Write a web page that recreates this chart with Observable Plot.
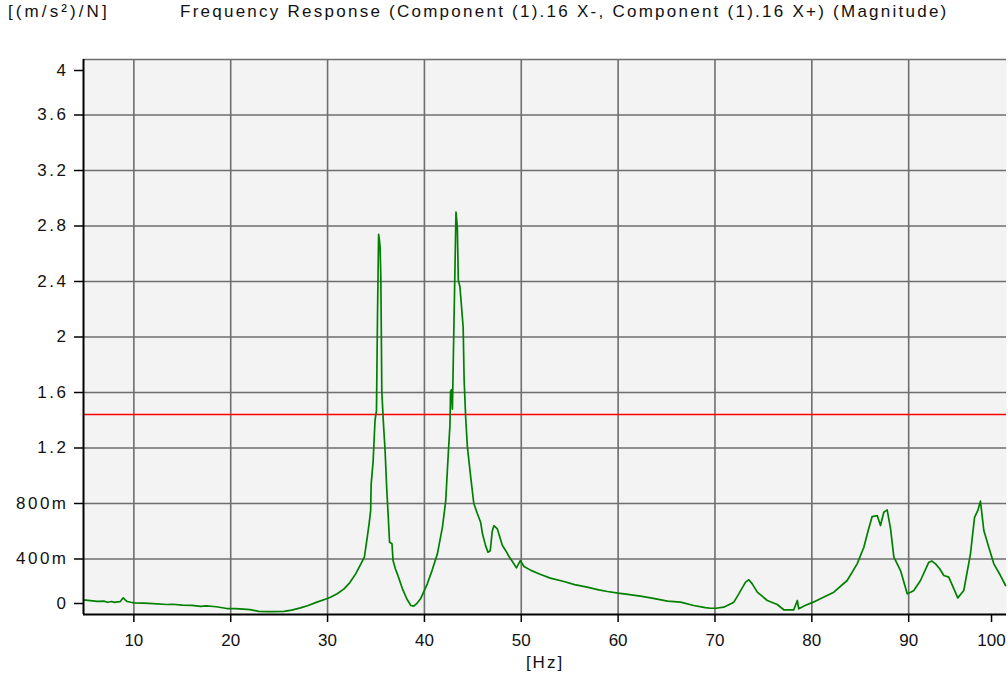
<!DOCTYPE html>
<html>
<head>
<meta charset="utf-8">
<script src="https://cdn.jsdelivr.net/npm/d3@7"></script>
<script src="https://cdn.jsdelivr.net/npm/@observablehq/plot@0.6"></script>
<style>
  html, body { margin: 0; padding: 0; background: #ffffff; }
  #head { position: relative; width: 1008px; height: 40px; font-family: "Liberation Sans", Arial, sans-serif; font-size: 17px; color: #111; }
  #unit { position: absolute; left: 8px; top: 2px; letter-spacing: 3.1px; white-space: nowrap; }
  #title { position: absolute; left: 180px; top: 2px; letter-spacing: 2.25px; white-space: nowrap; }
  #chart svg { display: block; }
</style>
</head>
<body>
<div id="head"><span id="unit">[(m/s²)/N]</span><span id="title">Frequency Response (Component (1).16 X-, Component (1).16 X+) (Magnitude)</span></div>
<div id="chart"></div>
<script>
// Frequency (Hz) and magnitude ((m/s²)/N)
const freq = [4.8,5.5,6.2,6.9,7.3,7.7,8.0,8.3,8.6,8.9,9.1,9.3,9.7,10.0,11.0,12.0,13.4,14.0,15.0,16.0,16.9,17.5,18.5,19.6,20.5,21.3,22.0,22.9,24.0,25.5,26.3,27.2,28.0,28.9,29.9,30.3,31.0,31.7,32.3,32.9,33.4,33.8,34.1,34.3,34.45,34.5,34.7,34.9,35.05,35.15,35.27,35.35,35.42,35.5,35.6,35.75,35.94,36.1,36.25,36.4,36.65,36.76,37.0,37.2,37.73,38.2,38.6,38.9,39.2,39.6,40.3,40.8,41.34,41.86,42.2,42.44,42.64,42.7,42.8,42.89,43.05,43.26,43.4,43.5,43.67,44.0,44.1,44.26,44.44,44.78,45.1,45.47,45.8,46.0,46.3,46.56,46.8,47.0,47.18,47.53,48.05,48.4,48.73,49.1,49.5,49.9,50.28,51.0,52.0,53.0,54.4,55.5,56.8,58.0,58.9,60.0,61.0,62.3,63.5,65.1,66.45,67.8,69.0,69.55,70.1,70.9,71.27,71.95,72.46,73.16,73.5,73.85,74.37,74.9,75.4,76.43,77.1,78.14,78.5,78.65,79.3,80.14,81.2,82.27,83.65,84.68,85.37,85.82,86.23,86.75,87.09,87.43,87.78,88.13,88.47,89.16,89.85,90.2,90.53,91.22,92.08,92.4,92.77,93.2,93.63,94.14,95.07,95.69,96.38,96.8,97.14,97.41,97.76,98.27,98.79,99.48,100.0];
const mag = [0.106,0.100,0.095,0.096,0.088,0.094,0.087,0.091,0.093,0.120,0.105,0.094,0.088,0.084,0.082,0.078,0.072,0.074,0.068,0.066,0.058,0.062,0.056,0.043,0.042,0.039,0.035,0.022,0.021,0.022,0.032,0.048,0.065,0.089,0.113,0.125,0.150,0.185,0.230,0.293,0.360,0.413,0.557,0.660,0.75,0.94,1.10,1.40,1.47,2.12,2.74,2.70,2.65,2.43,1.61,1.40,1.18,0.917,0.726,0.521,0.51,0.389,0.33,0.293,0.185,0.11,0.065,0.060,0.078,0.113,0.221,0.32,0.437,0.63,0.82,1.13,1.37,1.61,1.62,1.48,2.095,2.90,2.79,2.41,2.36,2.07,1.69,1.42,1.206,0.99,0.80,0.726,0.665,0.58,0.50,0.449,0.46,0.60,0.64,0.617,0.497,0.46,0.418,0.38,0.336,0.389,0.346,0.318,0.288,0.262,0.238,0.215,0.197,0.178,0.166,0.154,0.145,0.132,0.118,0.096,0.089,0.065,0.050,0.045,0.045,0.053,0.065,0.089,0.149,0.233,0.250,0.221,0.161,0.13,0.101,0.072,0.034,0.034,0.101,0.041,0.065,0.089,0.125,0.161,0.245,0.365,0.485,0.605,0.706,0.713,0.641,0.737,0.754,0.617,0.413,0.317,0.149,0.16,0.173,0.245,0.377,0.385,0.365,0.33,0.281,0.269,0.12,0.173,0.437,0.70,0.75,0.817,0.605,0.485,0.365,0.281,0.209];
const threshold = [1.441];
const yTicks = [0, 0.4, 0.8, 1.2, 1.6, 2.0, 2.4, 2.8, 3.2, 3.6, 4.0];
const yTickLabels = ["0", "400m", "800m", "1.2", "1.6", "2", "2.4", "2.8", "3.2", "3.6", "4"];
const xTicks = [10, 20, 30, 40, 50, 60, 70, 80, 90, 100];
const xTickLabels = ["10", "20", "30", "40", "50", "60", "70", "80", "90", "100"];
const xDomain = [4.8, 100.1];
const yDomain = [0, 4];

const data = freq.map((f, i) => ({f, m: mag[i]}));
const yLab = new Map(yTicks.map((v, i) => [v, yTickLabels[i]]));
const xLab = new Map(xTicks.map((v, i) => [v, xTickLabels[i]]));

const gridStyle = {stroke: "#6e6e6e", strokeOpacity: 1, strokeWidth: 1.6};
const yAxisCommon = {tickSize: 9, tickPadding: 6, tickFormat: d => yLab.get(d), stroke: "#000", strokeWidth: 1.5, fill: "#111", fontSize: 17, label: null};
const xAxisCommon = {tickSize: 8, tickPadding: 11, tickFormat: d => xLab.get(d), stroke: "#000", strokeWidth: 1.5, fill: "#111", fontSize: 17};

const chart = Plot.plot({
  width: 1008,
  height: 635,
  marginTop: 19,
  marginLeft: 83,
  marginRight: 2,
  marginBottom: 61,
  x: {domain: xDomain},
  y: {domain: yDomain},
  style: {fontFamily: "'Liberation Sans', Arial, sans-serif", fontSize: "17px", background: "#ffffff", color: "#111"},
  marks: [
    Plot.frame({fill: "#f3f3f3", stroke: null}),
    Plot.gridX(xTicks.slice(0, -1), gridStyle),
    Plot.gridY(yTicks.slice(1), gridStyle),
    Plot.ruleY(threshold, {stroke: "#ff0000", strokeWidth: 1.5}),
    Plot.line(data, {x: "f", y: "m", stroke: "#008000", strokeWidth: 1.7}),
    Plot.ruleX([xDomain[0]], {stroke: "#000", strokeWidth: 2}),
    Plot.ruleY([yDomain[0]], {stroke: "#000", strokeWidth: 2}),
    Plot.axisY(yTicks.slice(1, -1), {...yAxisCommon}),
    Plot.axisY(yTicks.slice(-1), {...yAxisCommon, dy: 11}),
    Plot.axisY(yTicks.slice(0, 1), {...yAxisCommon, dy: -11}),
    Plot.axisX(xTicks.slice(0, -1), {...xAxisCommon, label: "[Hz]", labelAnchor: "center", labelArrow: "none", labelOffset: 53}),
    Plot.axisX(xTicks.slice(-1), {...xAxisCommon, dx: -14, label: null})
  ]
});
document.getElementById("chart").appendChild(chart);
d3.select(chart).selectAll('g[aria-label="y-axis tick label"]').style("letter-spacing", "2.5px");
d3.select(chart).selectAll('g[aria-label="x-axis label"]').style("letter-spacing", "2px");
</script>
</body>
</html>
